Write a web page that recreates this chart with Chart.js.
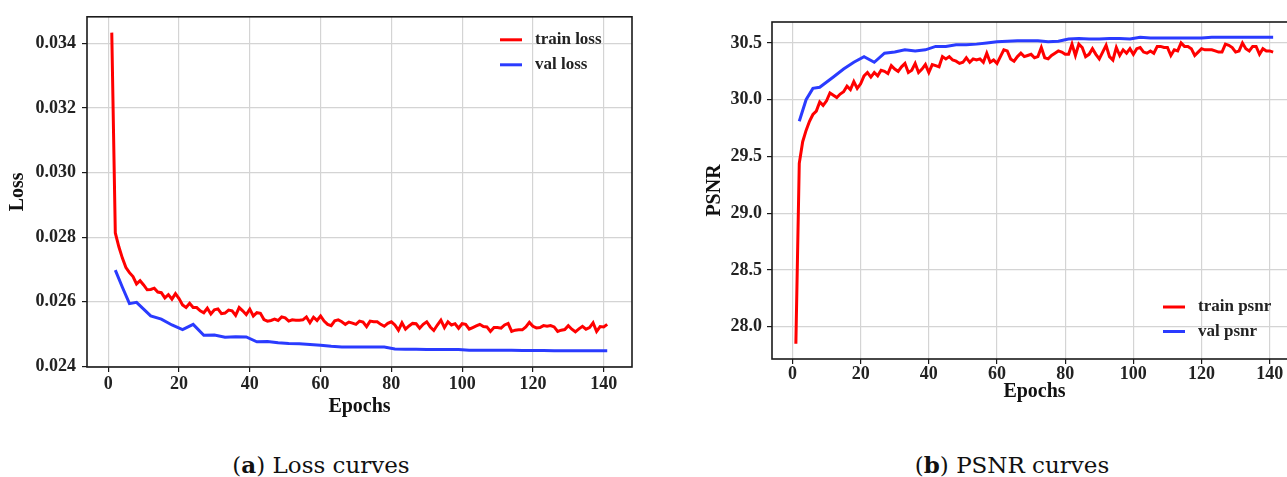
<!DOCTYPE html>
<html>
<head>
<meta charset="utf-8">
<title>Loss and PSNR curves</title>
<script src="https://cdn.jsdelivr.net/npm/chart.js@4"></script>
<style>
  html, body { margin: 0; padding: 0; background: #fff; }
  body { width: 1287px; height: 477px; position: relative; overflow: hidden; }
  canvas { position: absolute; top: 0; }
  #lossChart { left: 0; }
  #psnrChart { left: 690px; }
  .caption {
    position: absolute; top: 451px; width: 300px; margin-left: -150px;
    text-align: center; font-family: "DejaVu Serif", serif; font-size: 23px; color: #111;
  }
</style>
</head>
<body>
<canvas id="lossChart" width="650" height="430"></canvas>
<canvas id="psnrChart" width="620" height="410"></canvas>
<div class="caption" style="left:321px">(<b>a</b>) Loss curves</div>
<div class="caption" style="left:1012px">(<b>b</b>) PSNR curves</div>
<script>
// 训练/验证曲线数据 (train: 每个 epoch, val: 部分 epoch)
const trainLoss = [
    0.03433, 0.02813, 0.02770, 0.02735, 0.02706, 0.02690, 0.02678, 0.02655, 0.02665, 0.02652,
    0.02637, 0.02638, 0.02642, 0.02630, 0.02628, 0.02612, 0.02622, 0.02608, 0.02625, 0.02610,
    0.02590, 0.02582, 0.02595, 0.02582, 0.02582, 0.02572, 0.02566, 0.02580, 0.02562, 0.02575,
    0.02578, 0.02563, 0.02565, 0.02574, 0.02572, 0.02558, 0.02582, 0.02572, 0.02560, 0.02577,
    0.02556, 0.02566, 0.02564, 0.02545, 0.02540, 0.02542, 0.02546, 0.02542, 0.02553, 0.02550,
    0.02540, 0.02544, 0.02543, 0.02543, 0.02544, 0.02553, 0.02535, 0.02552, 0.02542, 0.02556,
    0.02540, 0.02530, 0.02526, 0.02541, 0.02544, 0.02538, 0.02530, 0.02537, 0.02534, 0.02530,
    0.02540, 0.02537, 0.02523, 0.02540, 0.02538, 0.02538, 0.02530, 0.02524, 0.02533, 0.02538,
    0.02528, 0.02512, 0.02535, 0.02515, 0.02525, 0.02533, 0.02532, 0.02518, 0.02530, 0.02538,
    0.02522, 0.02511, 0.02528, 0.02543, 0.02520, 0.02538, 0.02528, 0.02532, 0.02518, 0.02532,
    0.02530, 0.02515, 0.02520, 0.02525, 0.02530, 0.02523, 0.02522, 0.02508, 0.02520, 0.02520,
    0.02518, 0.02528, 0.02533, 0.02508, 0.02512, 0.02513, 0.02513, 0.02522, 0.02536, 0.02524,
    0.02519, 0.02520, 0.02526, 0.02524, 0.02526, 0.02522, 0.02508, 0.02512, 0.02514, 0.02526,
    0.02515, 0.02507, 0.02516, 0.02524, 0.02515, 0.02520, 0.02535, 0.02508, 0.02523, 0.02522,
    0.02530
];
const trainPsnr = [
    27.85, 29.44, 29.63, 29.73, 29.81, 29.87, 29.90, 29.98, 29.95, 29.99,
    30.06, 30.04, 30.02, 30.05, 30.07, 30.12, 30.09, 30.16, 30.10, 30.14,
    30.21, 30.24, 30.20, 30.24, 30.21, 30.26, 30.25, 30.23, 30.30, 30.27,
    30.25, 30.29, 30.32, 30.24, 30.26, 30.32, 30.24, 30.27, 30.31, 30.24,
    30.31, 30.30, 30.29, 30.38, 30.36, 30.38, 30.35, 30.34, 30.32, 30.33,
    30.37, 30.33, 30.36, 30.35, 30.36, 30.33, 30.41, 30.33, 30.35, 30.32,
    30.38, 30.44, 30.43, 30.36, 30.34, 30.38, 30.41, 30.38, 30.39, 30.40,
    30.37, 30.38, 30.46, 30.37, 30.36, 30.39, 30.41, 30.43, 30.42, 30.40,
    30.40, 30.49, 30.39, 30.49, 30.46, 30.38, 30.40, 30.45, 30.40, 30.36,
    30.42, 30.48, 30.38, 30.35, 30.46, 30.39, 30.44, 30.41, 30.45, 30.40,
    30.45, 30.46, 30.42, 30.41, 30.43, 30.41, 30.47, 30.47, 30.46, 30.46,
    30.39, 30.44, 30.43, 30.50, 30.47, 30.47, 30.45, 30.39, 30.42, 30.45,
    30.44, 30.44, 30.44, 30.43, 30.42, 30.42, 30.49, 30.48, 30.46, 30.42,
    30.43, 30.50, 30.45, 30.43, 30.47, 30.47, 30.40, 30.45, 30.43, 30.43,
    30.42
];
const valEpochs = [
    2, 4, 6, 8, 12, 15, 18, 21, 24, 27, 30, 33, 36, 39, 42, 45, 48, 51, 54, 57,
    60, 63, 66, 69, 72, 75, 78, 81, 84, 87, 90, 93, 96, 99, 102, 105, 108, 111, 114, 117,
    120, 123, 126, 129, 132, 135, 138, 141
];
const valLoss = [
    0.02698, 0.02645, 0.02594, 0.02598, 0.02556, 0.02546, 0.02528, 0.02514, 0.02530, 0.02496,
    0.02497, 0.02490, 0.02492, 0.02491, 0.02476, 0.02477, 0.02473, 0.02471, 0.02470, 0.02468,
    0.02465, 0.02462, 0.02460, 0.02460, 0.02460, 0.02460, 0.02460, 0.02454, 0.02453, 0.02453,
    0.02452, 0.02452, 0.02452, 0.02452, 0.02450, 0.02450, 0.02450, 0.02450, 0.02450, 0.02449,
    0.02449, 0.02449, 0.02448, 0.02448, 0.02448, 0.02448, 0.02448, 0.02448
];
const valPsnr = [
    29.81, 30.00, 30.10, 30.11, 30.20, 30.27, 30.33, 30.38, 30.33, 30.41,
    30.42, 30.44, 30.43, 30.44, 30.47, 30.47, 30.485, 30.485, 30.49, 30.50,
    30.51, 30.515, 30.52, 30.52, 30.52, 30.51, 30.515, 30.535, 30.54, 30.535,
    30.535, 30.54, 30.54, 30.535, 30.55, 30.545, 30.545, 30.545, 30.545, 30.545,
    30.545, 30.55, 30.55, 30.55, 30.55, 30.55, 30.55, 30.55
];
const epochTicks = [0, 20, 40, 60, 80, 100, 120, 140];
const lossTicks = [0.024, 0.026, 0.028, 0.030, 0.032, 0.034];
const psnrTicks = [28.0, 28.5, 29.0, 29.5, 30.0, 30.5];

const trainEpochs = trainLoss.map((_, i) => i + 1);
const toPoints = (xs, ys) => xs.map((x, i) => ({ x: x, y: ys[i] }));

const RED = "#ff0000";
const BLUE = "#2a3bff";
const tickFont = { family: "'Liberation Serif', serif", weight: "bold", size: 18 };
const titleFont = { family: "'Liberation Serif', serif", weight: "bold", size: 20 };

// 画外框和图内图例
const frameLegend = {
    id: "frameLegend",
    afterDraw(chart, args, opts) {
        const { ctx, chartArea: a } = chart;
        ctx.save();
        ctx.strokeStyle = "#1a1a1a";
        ctx.lineWidth = 1.6;
        ctx.strokeRect(a.left, a.top, a.right - a.left, a.bottom - a.top);

        const x0 = a.right + opts.dx;
        const y0 = (opts.fromBottom ? a.bottom : a.top) + opts.dy;
        ctx.font = "bold 17px 'Liberation Serif', serif";
        ctx.textBaseline = "middle";
        chart.data.datasets.forEach((ds, i) => {
            const y = y0 + i * opts.rowGap;
            ctx.strokeStyle = ds.borderColor;
            ctx.lineWidth = 3;
            ctx.beginPath();
            ctx.moveTo(x0, y);
            ctx.lineTo(x0 + 22, y);
            ctx.stroke();
            ctx.fillStyle = "#222";
            ctx.fillText(ds.label, x0 + 35, y);
        });
        ctx.restore();
    },
};

function makeChart(id, cfg) {
    const ctx = document.getElementById(id).getContext("2d");
    return new Chart(ctx, {
        type: "line",
        data: {
            datasets: [
                {
                    label: cfg.trainLabel,
                    data: toPoints(trainEpochs, cfg.train),
                    borderColor: RED,
                    borderWidth: 3,
                    pointRadius: 0,
                    tension: 0,
                },
                {
                    label: cfg.valLabel,
                    data: toPoints(valEpochs, cfg.val),
                    borderColor: BLUE,
                    borderWidth: 3,
                    pointRadius: 0,
                    tension: 0,
                },
            ],
        },
        options: {
            responsive: false,
            animation: false,
            devicePixelRatio: 1,
            layout: { padding: cfg.padding },
            plugins: {
                legend: { display: false },
                tooltip: { enabled: false },
                frameLegend: cfg.legend,
            },
            scales: {
                x: {
                    type: "linear",
                    min: -6,
                    max: 148,
                    afterBuildTicks: (scale) => {
                        scale.ticks = epochTicks.map((v) => ({ value: v }));
                    },
                    afterFit: (scale) => {
                        scale.height = cfg.xHeight;
                    },
                    grid: { color: "#d4d4d4", lineWidth: 1.2, tickColor: "#1a1a1a", tickLength: 5 },
                    border: { display: false },
                    ticks: { font: tickFont, color: "#222", padding: cfg.xPad, maxRotation: 0 },
                    title: {
                        display: true,
                        text: "Epochs",
                        font: titleFont,
                        color: "#111",
                        padding: { top: 0, bottom: cfg.xTitlePad },
                    },
                },
                y: {
                    type: "linear",
                    min: cfg.yMin,
                    max: cfg.yMax,
                    afterBuildTicks: (scale) => {
                        scale.ticks = cfg.yTicks.map((v) => ({ value: v }));
                    },
                    afterFit: (scale) => {
                        scale.width = cfg.yWidth;
                    },
                    grid: { color: "#d4d4d4", lineWidth: 1.2, tickColor: "#1a1a1a", tickLength: 5 },
                    border: { display: false },
                    ticks: {
                        font: tickFont,
                        color: "#222",
                        padding: cfg.yPad,
                        callback: (v) => v.toFixed(cfg.digits),
                    },
                    title: {
                        display: true,
                        text: cfg.yTitle,
                        font: titleFont,
                        color: "#111",
                        padding: { top: cfg.yTitlePad, bottom: 0 },
                    },
                },
            },
        },
        plugins: [frameLegend],
    });
}

document.addEventListener("DOMContentLoaded", () => {
    makeChart("lossChart", {
        trainLabel: "train loss",
        valLabel: "val loss",
        train: trainLoss,
        val: valLoss,
        yMin: 0.02398,
        yMax: 0.03482,
        yTicks: lossTicks,
        digits: 3,
        yTitle: "Loss",
        padding: { top: 12, right: 18, left: 0, bottom: 0 },
        yWidth: 87,
        xHeight: 63,
        xPad: 2,
        yPad: 6,
        xTitlePad: 11,
        yTitlePad: 6,
        legend: { dx: -132, dy: 23, rowGap: 25, fromBottom: false },
    });
    makeChart("psnrChart", {
        trainLabel: "train psnr",
        valLabel: "val psnr",
        train: trainPsnr,
        val: valPsnr,
        yMin: 27.715,
        yMax: 30.685,
        yTicks: psnrTicks,
        digits: 1,
        yTitle: "PSNR",
        padding: { top: 22, right: 13, left: 0, bottom: 0 },
        yWidth: 82,
        xHeight: 51,
        xPad: 0,
        yPad: 5,
        xTitlePad: 6,
        yTitlePad: 13,
        legend: { dx: -134, dy: -52, rowGap: 24.5, fromBottom: true },
    });
});
</script>
</body>
</html>
